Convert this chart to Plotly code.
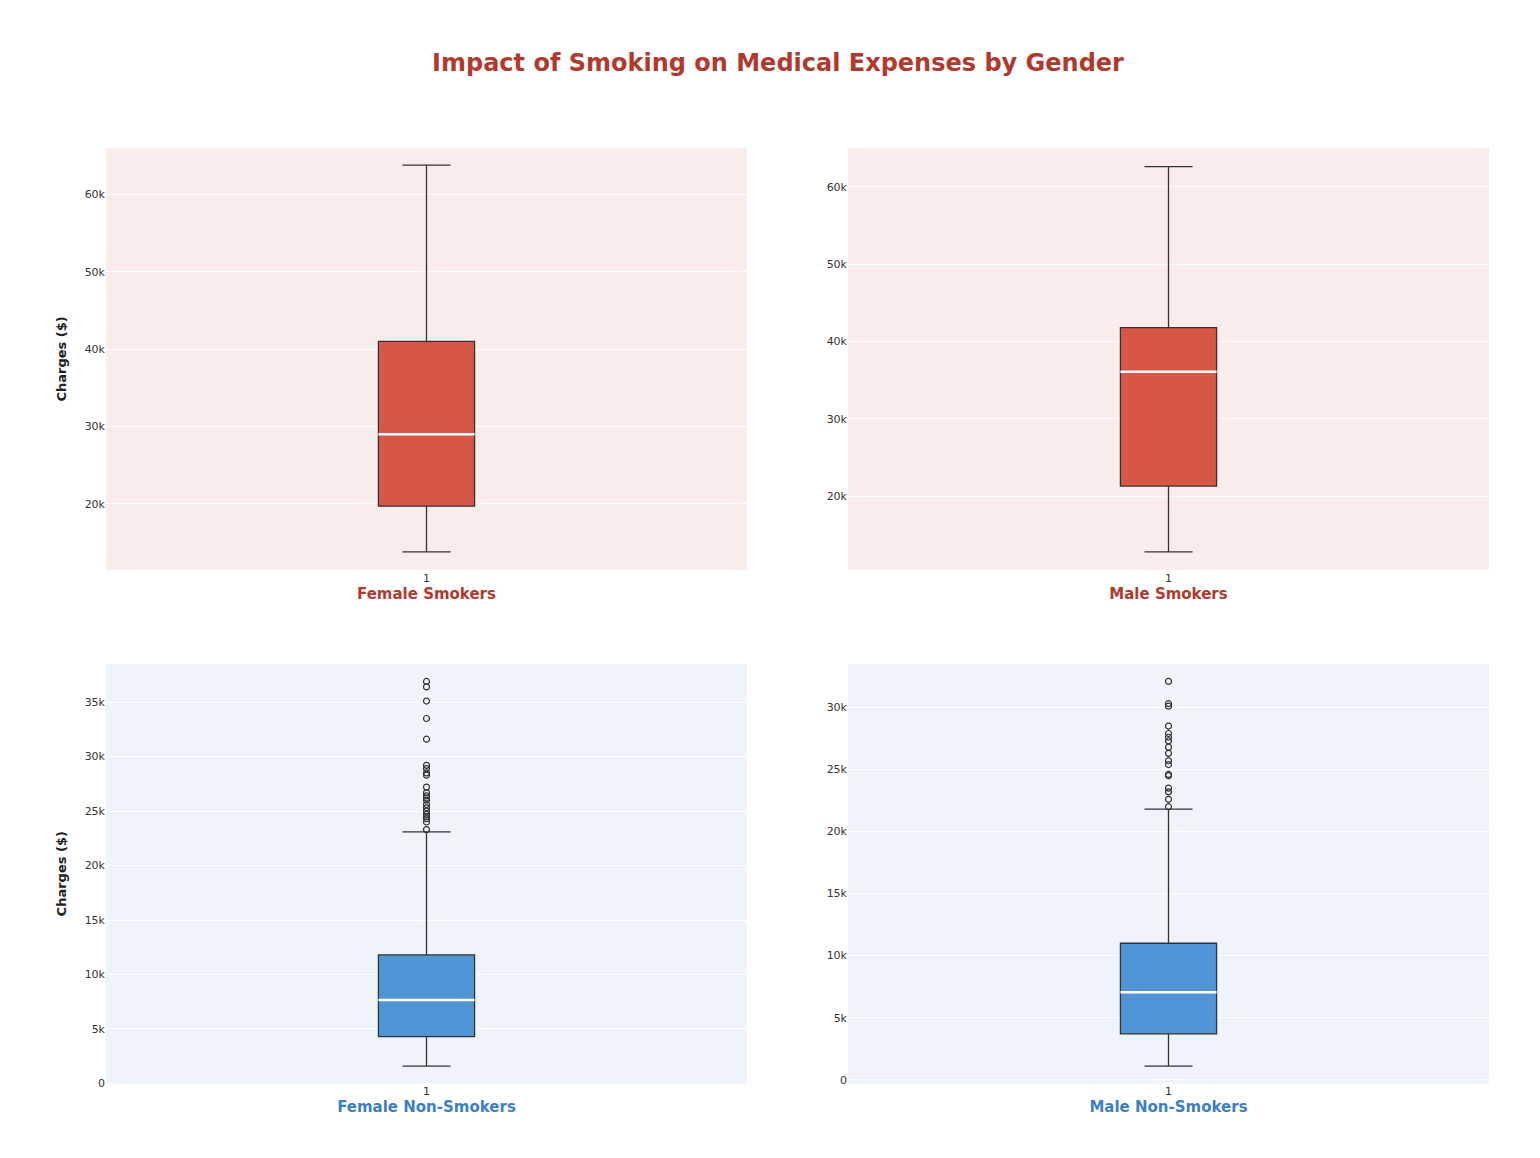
import plotly.graph_objects as go

panels = ["Female Smokers", "Male Smokers", "Female Non-Smokers", "Male Non-Smokers"]
lower = [13800, 12800, 1600, 1100]
q1 = [19700, 21300, 4300, 3700]
median = [29000, 36100, 7650, 7050]
q3 = [41000, 41800, 11800, 11000]
upper = [63800, 62600, 23100, 21800]
outliers = [
    [],
    [],
    [23300, 24000, 24300, 24500, 24700, 25000, 25300, 25600, 26000, 26200, 26400,
     26700, 27200, 28300, 28500, 28900, 29200, 31600, 33500, 35100, 36400, 36900],
    [22000, 22600, 23200, 23500, 24500, 24600, 25400, 25700, 26300, 26800, 27300,
     27600, 27900, 28500, 30100, 30300, 32100],
]
y_ranges = [[11500, 66000], [10500, 65000], [0, 38500], [-300, 33500]]

W, H = 1540, 1158
x_dom = [[98 / W, 739 / W], [840 / W, 1481 / W]]
y_dom = [[1 - 565 / H, 1 - 141 / H], [1 - 1082 / H, 1 - 660 / H]]

fig = go.Figure()
layout = {}
annotations = []
shapes = []
for i, name in enumerate(panels):
    smoker = i < 2
    fill = "#d65745" if smoker else "#5096d6"
    bg = "#faeceb" if smoker else "#eef4fa"
    label_col = "#b03a2e" if smoker else "#3d7fc1"
    n = "" if i == 0 else str(i + 1)
    xa, ya = "x" + n, "y" + n
    fig.add_trace(go.Box(
        x=[1], q1=[q1[i]], median=[median[i]], q3=[q3[i]],
        lowerfence=[lower[i]], upperfence=[upper[i]], width=0.15, whiskerwidth=0.5,
        fillcolor=fill, line=dict(color="#333333", width=1.3),
        xaxis=xa, yaxis=ya, hoverinfo="y", showlegend=False))
    fig.add_trace(go.Scatter(
        x=[0.925, 1.075], y=[median[i], median[i]], mode="lines",
        line=dict(color="white", width=2.5), xaxis=xa, yaxis=ya, showlegend=False))
    if outliers[i]:
        fig.add_trace(go.Scatter(
            x=[1] * len(outliers[i]), y=outliers[i], mode="markers",
            marker=dict(symbol="circle-open", size=6, color="#333333", line=dict(width=1.2)),
            xaxis=xa, yaxis=ya, showlegend=False))
    layout["xaxis" + n] = dict(
        domain=x_dom[i % 2], anchor=ya, range=[0.5, 1.5], tickvals=[1], ticktext=["1"],
        showgrid=False, zeroline=False, tickfont=dict(size=11, color="#333"),
        title=dict(text=f"<b>{name}</b>", font=dict(size=15, color=label_col), standoff=4))
    layout["yaxis" + n] = dict(
        domain=y_dom[i // 2], anchor=xa, range=y_ranges[i], showgrid=True,
        gridcolor="white", gridwidth=1.2, zeroline=False,
        tickfont=dict(size=11, color="#333"),
        title=dict(text="<b>Charges ($)</b>" if i % 2 == 0 else "", font=dict(size=13, color="#222")))
    shapes.append(dict(type="rect", xref=xa + " domain", yref=ya + " domain",
                       x0=0, x1=1, y0=0, y1=1, fillcolor=bg, line_width=0, layer="below"))

fig.update_layout(
    width=W, height=H, paper_bgcolor="white", plot_bgcolor="rgba(0,0,0,0)",
    font=dict(family="DejaVu Sans"), shapes=shapes, margin=dict(l=0, r=0, t=0, b=0),
    title=dict(text="<b>Impact of Smoking on Medical Expenses by Gender</b>",
               x=0.5, y=0.96, xanchor="center", font=dict(size=24, color="#b03a2e")),
    **layout)

fig.write_html("out.html")
